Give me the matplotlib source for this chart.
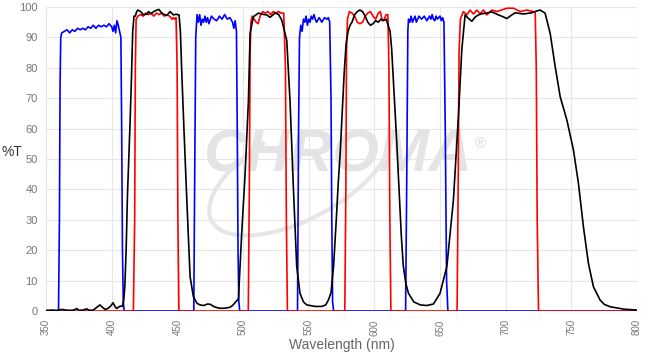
import matplotlib
matplotlib.use('Agg')
import matplotlib.pyplot as plt
from matplotlib.patches import Arc

plt.rcParams['font.family'] = ['Liberation Sans', 'DejaVu Sans']

# excitation (blue)
ex_nm = [350, 359.5, 360.2, 360.7, 361.2, 362, 364, 366, 368, 370, 372, 374, 376, 378, 380,
         382, 384, 386, 388, 390, 392, 394, 396, 398, 400, 401, 402, 403, 404, 405, 406,
         407, 407.6, 408.2, 408.8, 409.5,
         462.5, 463.3, 464, 465, 466, 467, 468, 469, 470, 471, 472, 473, 474, 476, 478, 480,
         482, 484, 486, 488, 490, 492, 493, 494, 495, 495.6, 496.2, 496.8, 497.5,
         541.5, 542.3, 543, 544, 545, 546, 547, 548, 549, 550, 551, 552, 553, 554, 555, 556,
         558, 560, 562, 564, 565, 566, 567, 567.6, 568.2, 569,
         623.8, 624.6, 625.5, 626, 627, 628, 629, 630, 631, 632, 634, 636, 638, 640, 642, 643,
         644, 645, 646, 647, 648, 650, 651, 652, 653, 654, 655, 656, 800]
ex_t = [0, 0, 30, 75, 90, 91.5, 92, 92.5, 91.5, 92.5, 92, 93, 92.5, 93, 92.5,
        93.5, 93, 94, 93, 94, 93.5, 94, 93.5, 94.5, 93.5, 92, 94, 91.5, 95.5, 94, 92,
        90, 60, 20, 3, 0,
        0, 50, 90, 97.5, 95, 97.5, 94, 96, 95, 97, 95, 96.5, 94.5, 97, 96, 95.5,
        97, 96, 97.5, 96, 96.5, 95, 93, 95.5, 92, 60, 20, 3, 0,
        0, 60, 90, 94, 92, 96, 95, 97, 94, 96, 95, 97, 96, 97.5, 96, 95,
        96.5, 95, 96.5, 96, 96.5, 95, 70, 30, 3, 0,
        0, 40, 92, 96, 95, 97, 95, 96, 97, 95, 97, 96, 97, 95.5, 97, 96,
        97.5, 96, 95.5, 97, 96, 97, 95.5, 96.5, 95, 60, 10, 0, 0]

# emission (red)
em_nm = [350, 416.5, 417.5, 418, 418.6, 420, 422, 424, 426, 428, 430, 432, 434, 436, 438,
         440, 442, 444, 446, 447, 448, 449, 449.8, 450.4, 451.2,
         504, 504.8, 505.4, 506, 507, 508.5, 510, 511.5, 513, 515, 517, 519, 521, 523, 525,
         527, 529, 531, 532.3, 533, 533.8,
         577.5, 578.3, 578.8, 579.5, 581, 583, 585, 587, 589, 591, 593, 595, 597, 599, 601,
         603, 604.5, 606, 607.5, 609, 610.3, 611.1, 611.8, 612.6,
         663, 663.8, 664.5, 665.5, 667.8, 670.4, 672.9, 675.5, 678, 680.5, 683.1, 685.6,
         689.4, 693.3, 700.9, 706, 711, 716.1, 721.1, 722.5, 723.3, 724, 725, 800]
em_t = [0, 0, 30, 80, 96, 97, 97.5, 97, 98, 97.5, 98, 97, 98, 97.5, 98,
        97, 97.5, 97, 96, 96.5, 96, 96.5, 80, 30, 0,
        0, 40, 85, 95, 97, 96, 95, 94.5, 97, 98.5, 98, 98.5, 97.5, 98.5, 98,
        98.5, 98, 98, 80, 30, 0,
        0, 40, 85, 96, 98.5, 98, 97, 95, 94.5, 95, 97, 98, 98.5, 97, 96,
        98, 98.5, 95.5, 96, 97.5, 97.5, 80, 30, 0,
        0, 40, 85, 96, 98.5, 97.4, 99, 97.7, 99, 97.8, 99, 97.4,
        99, 98.5, 99.6, 99.6, 98.5, 99, 98.5, 98, 80, 30, 0, 0]

# dichroic (black)
di_nm = [350, 355, 358, 362, 365, 368, 371, 373.5, 375, 378, 381, 383, 386, 388, 391, 393,
         395, 397, 399, 401, 402.5, 403.8, 405, 406.5, 408, 409, 410, 411, 412, 413, 414,
         415, 416, 417, 418, 419, 420, 422, 424, 426.7, 428, 430, 432, 434.3, 436, 438.1,
         440, 442, 444.4, 447, 449, 451.3, 452.3, 453.4, 455, 457.2, 459.7, 462.2, 465,
         467.3, 470, 473, 475, 478, 482, 486, 490, 492, 494, 496.5, 499, 501.6, 504.1,
         505.4, 507.9, 511.7, 515, 518.1, 520.6, 524.4, 527, 529.5, 531, 533.3, 535.8,
         538.3, 540.9, 543.4, 546, 548.5, 555, 560, 563, 565, 567, 569, 571, 572.5, 574,
         575.5, 577, 578.5, 580, 581.5, 583, 585, 587, 589, 591, 593, 595, 597, 599, 601,
         603, 605, 607, 609, 610.5, 612, 613.2, 615, 617, 619, 620.5, 622, 624, 626, 630,
         635, 640, 645, 650, 655.2, 660.2, 664, 666.6, 669.1, 671, 674.2, 677, 679.3, 682,
         685.6, 689.4, 694.5, 698, 700.9, 704, 707.2, 713.5, 719.9, 723, 726.2, 730, 733.9,
         737.7, 741.5, 746.6, 751.6, 755.4, 759.2, 763, 766.8, 771.9, 775, 779.5, 790, 800]
di_t = [0.2, 0.3, 0.2, 0.5, 0.3, 0.2, 0.3, 0.8, 0.2, 0.3, 0.7, 0.2, 0.3, 1.0, 2.0, 1.2,
        0.5, 0.8, 1.5, 2.7, 1.5, 0.8, 1.2, 1.6, 1.5, 3, 8, 20, 38, 50, 62,
        76, 92, 97, 97, 98.5, 99, 98.5, 97.5, 97.6, 98.5, 97.8, 98.5, 99, 99.2, 98,
        97.5, 97.2, 98.5, 97.4, 97.6, 97.4, 92, 78, 60, 36.5, 11.3, 4.7, 2.5,
        2.0, 1.8, 2.3, 2.2, 1.4, 0.9, 0.9, 1.2, 1.8, 2.8, 4, 25.6, 45.3, 69,
        91.4, 96.8, 98, 97.6, 97.4, 96.6, 98, 97.6, 95.7, 93, 89, 69,
        41, 14.6, 5.8, 3, 2, 1.5, 1.5, 2, 3.6, 6, 15, 30, 42, 52,
        65, 78, 88, 92, 94, 95, 97.5, 98.5, 99, 98.5, 97, 95, 94, 94.5, 95.5,
        95, 96, 95.5, 96, 94, 92, 86, 72, 56, 38, 25, 15, 9, 5.8, 3,
        2, 1.8, 2.3, 5.8, 14.6, 36.5, 64, 86, 97.4, 96.5, 95.3, 96.8, 97.4, 97.8,
        98, 98.4, 97.4, 96.8, 96.2, 97.2, 98.1, 97.7, 98.1, 98.6, 99, 98, 91.3,
        80.4, 70.5, 62.8, 53, 42, 27.7, 15.7, 8, 3.6, 2.2, 1.4, 0.6, 0.3]

fig = plt.figure(figsize=(6.52, 3.54), dpi=100)
ax = fig.add_axes([0.0706, 0.1215, 0.9064, 0.8587])

# watermark
ax.text(572, 51, 'CHROMA', fontsize=43, fontweight='bold', style='italic',
        color='#e4e4e4', ha='center', va='center', zorder=0)
ax.text(681, 55, '\u00ae', fontsize=11, color='#dcdcdc', ha='center', va='center', zorder=0)
ax.add_patch(Arc((3.0, 1.8), 2.0, 0.9, angle=28, theta1=110, theta2=360,
                 transform=fig.dpi_scale_trans, color='#e6e6e6', lw=3, zorder=0))

ax.plot(ex_nm, ex_t, color='#0000ff', lw=1.2, zorder=2)
ax.plot(em_nm, em_t, color='#ff0000', lw=1.2, zorder=3)
ax.plot(di_nm, di_t, color='black', lw=1.2, zorder=4)

ax.set_xlim(350, 800)
ax.set_ylim(0, 100)
ax.set_xticks(range(350, 801, 50))
ax.set_yticks(range(0, 101, 10))
ax.tick_params(axis='x', labelrotation=90, labelsize=7, colors='#777777', length=0, pad=6)
ax.tick_params(axis='y', labelsize=8, colors='#777777', length=0, pad=6)
ax.grid(True, color='#e6e6e6', lw=0.8)
ax.set_axisbelow(True)
for s in ax.spines.values():
    s.set_visible(False)

ax.set_xlabel('Wavelength (nm)', fontsize=10, color='#666666', labelpad=2)
ax.set_ylabel('%T', fontsize=10, color='#333333', rotation=0, labelpad=14)
ax.yaxis.set_label_coords(-0.058, 0.5)

fig.savefig('out.png', dpi=100)
